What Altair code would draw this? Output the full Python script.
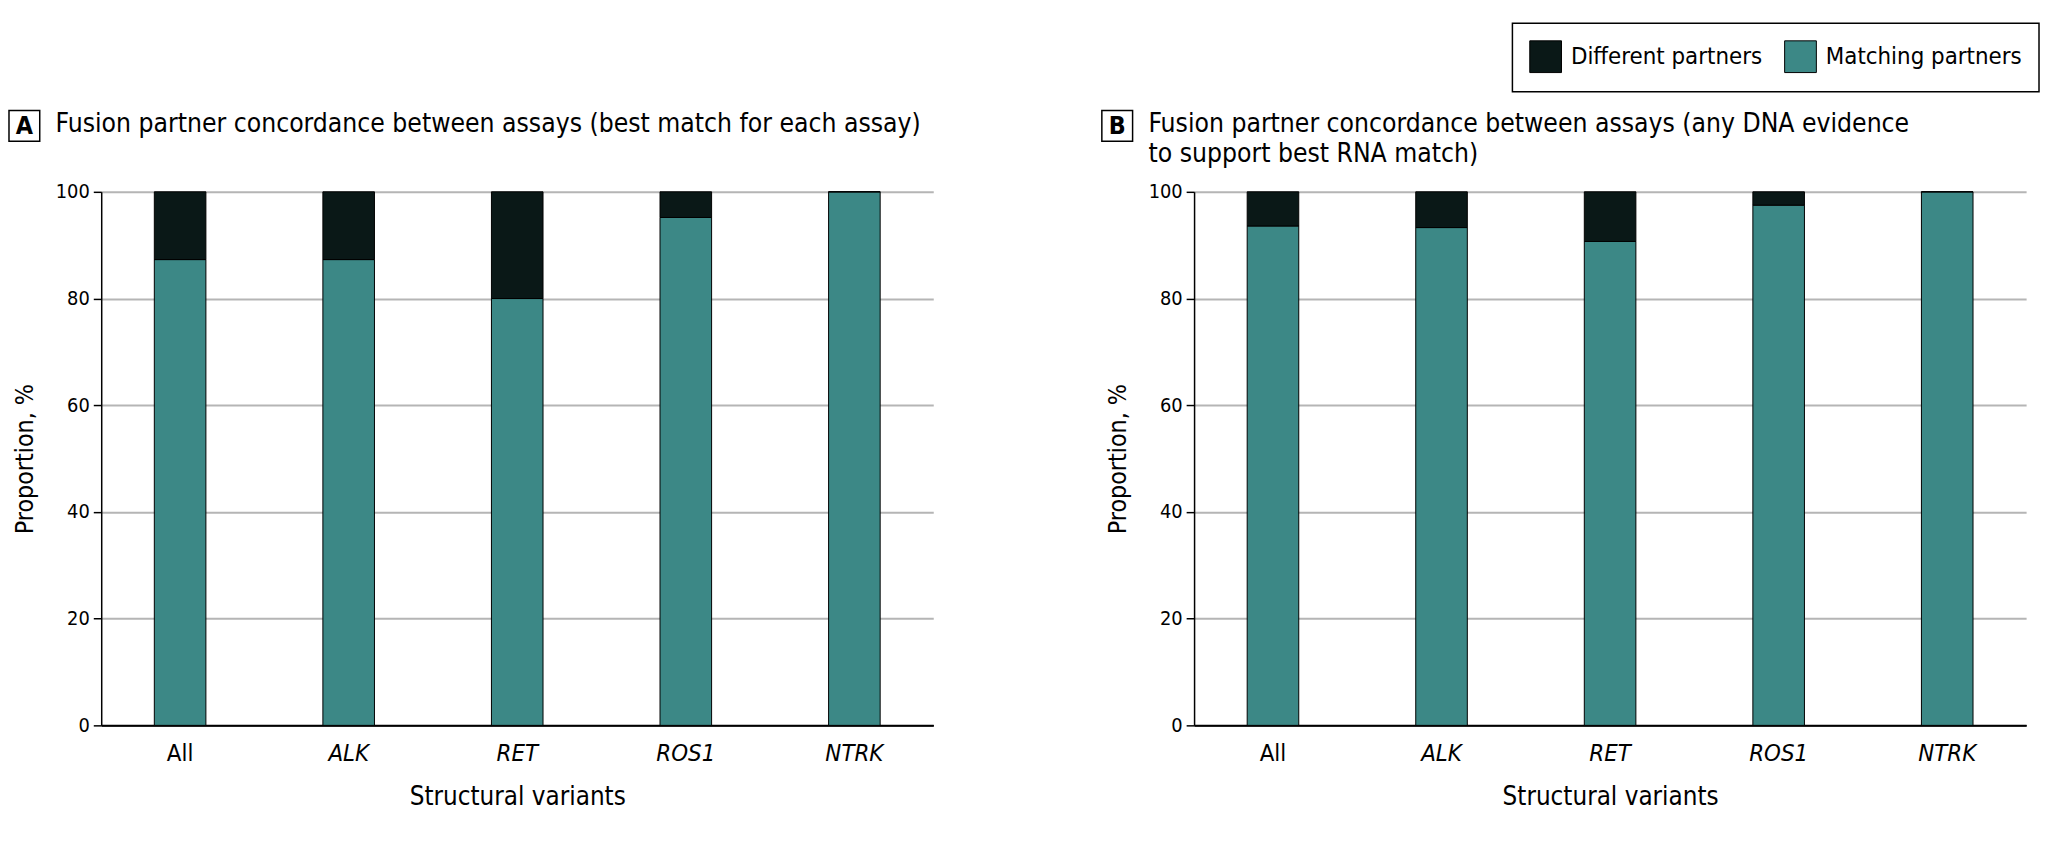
import altair as alt
import pandas as pd

# ---- data ----
categories = ["All", "ALK", "RET", "ROS1", "NTRK"]
matching_a = [87.3, 87.3, 80.0, 95.2, 100.0]
matching_b = [93.6, 93.3, 90.7, 97.5, 100.0]
series = ["Different partners", "Matching partners"]
y_ticks = [0, 20, 40, 60, 80, 100]
title_a = "Fusion partner concordance between assays (best match for each assay)"
title_b = "Fusion partner concordance between assays (any DNA evidence\nto support best RNA match)"

FONT = "Liberation Sans Narrow, DejaVu Sans Condensed, Roboto, sans-serif"
DARK = "#0a1817"
TEAL = "#3c8886"
W, H = 839, 538


def frame(matching):
    rows = []
    for c, m in zip(categories, matching):
        rows.append({"variant": c, "series": "Matching partners", "value": m, "order": 0})
        rows.append({"variant": c, "series": "Different partners", "value": round(100 - m, 1), "order": 1})
    return pd.DataFrame(rows)


def panel(matching, letter, title_text, legend):
    df = frame(matching)
    bars = alt.Chart(df).mark_bar(stroke="#000", strokeWidth=1).encode(
        x=alt.X(
            "variant:N",
            sort=categories,
            scale=alt.Scale(paddingInner=0.694, paddingOuter=0.315),
            axis=alt.Axis(
                title="Structural variants",
                labelAngle=0,
                ticks=False,
                tickSize=0,
                grid=False,
                domainColor="#000",
                domainWidth=1.5,
                labelFont=FONT,
                labelFontSize=24,
                labelColor="#000",
                labelPadding=16,
                labelFontStyle={"condition": {"test": "datum.value == 'All'", "value": "normal"}, "value": "italic"},
                titleFont=FONT,
                titleFontSize=26,
                titleFontWeight="normal",
                titleColor="#000",
                titleY=72,
                titleBaseline="middle",
            ),
        ),
        y=alt.Y(
            "value:Q",
            stack="zero",
            scale=alt.Scale(domain=[0, 100]),
            axis=alt.Axis(
                values=y_ticks,
                title="Proportion, %",
                grid=True,
                gridColor={"condition": {"test": "datum.value == 0", "value": "#000"}, "value": "#b5b5b5"},
                gridWidth=2,
                domainColor="#000",
                domainWidth=1.5,
                tickColor="#000",
                tickWidth=1.5,
                tickSize=8,
                labelFont=FONT,
                labelFontSize=20,
                labelColor="#000",
                labelPadding=4,
                titleFont=FONT,
                titleFontSize=25,
                titleFontWeight="normal",
                titleColor="#000",
                titleX=-77,
                titleY=H / 2,
                titleAlign="center",
                titleBaseline="middle",
            ),
        ),
        color=alt.Color(
            "series:N",
            scale=alt.Scale(domain=series, range=[DARK, TEAL]),
            legend=legend,
        ),
        order=alt.Order("order:Q"),
    )

    one = alt.Chart(pd.DataFrame({"t": [title_text], "l": [letter]}))
    box = one.mark_rect(fill="white", stroke="#000", strokeWidth=1.5).encode(
        x=alt.value(-93), x2=alt.value(-62), y=alt.value(-82), y2=alt.value(-51)
    )
    let = one.mark_text(font=FONT, fontSize=25, fontWeight="bold", color="#000",
                        align="center", baseline="middle").encode(
        x=alt.value(-77.5), y=alt.value(-66), text="l:N"
    )
    ttl = one.mark_text(font=FONT, fontSize=26.5, color="#000", align="left",
                        baseline="alphabetic", lineBreak="\n", lineHeight=30).encode(
        x=alt.value(-46), y=alt.value(-60), text="t:N"
    )
    spacer = one.mark_rule(opacity=0).encode(
        x=alt.value(0), y=alt.value(-170), y2=alt.value(-165)
    )
    return alt.layer(bars, box, let, ttl, spacer).properties(width=W, height=H)


legend_b = alt.Legend(
    orient="none",
    legendX=321,
    legendY=-170,
    direction="horizontal",
    columns=2,
    title=None,
    symbolType="square",
    symbolSize=1024,
    symbolStrokeColor="#000",
    symbolStrokeWidth=1,
    labelFont=FONT,
    labelFontSize=24,
    labelColor="#000",
    labelOffset=9,
    labelLimit=400,
    columnPadding=20,
    padding=17,
    strokeColor="#000",
    fillColor="white",
)

pa = panel(matching_a, "A", title_a, None)
pb = panel(matching_b, "B", title_b, legend_b)

chart = (
    alt.hconcat(pa, pb, spacing=169)
    .resolve_scale(color="independent")
    .resolve_legend(color="independent")
    .properties(padding={"left": 0, "top": 11, "right": 0, "bottom": 0})
    .configure_view(stroke=None)
    .configure_legend(strokeWidth=1.5)
)

chart.save("out.html", embed_options={"renderer": "svg", "actions": False})
